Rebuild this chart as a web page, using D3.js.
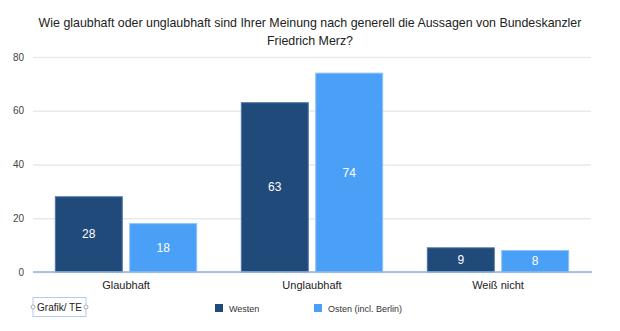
<!DOCTYPE html>
<html>
<head>
<meta charset="utf-8">
<script src="https://cdn.jsdelivr.net/npm/d3@7"></script>
<style>
  body { margin: 0; background: #fff; }
  svg { display: block; font-family: "Liberation Sans", Arial, Helvetica, sans-serif; }
</style>
</head>
<body>
<svg id="chart" width="620" height="331"></svg>
<script>
const titleLines = [
  "Wie glaubhaft oder unglaubhaft sind Ihrer Meinung nach generell die Aussagen von Bundeskanzler",
  "Friedrich Merz?"
];
const categories = ["Glaubhaft", "Unglaubhaft", "Weiß nicht"];
const seriesNames = ["Westen", "Osten (incl. Berlin)"];
const westen = [28, 63, 9];
const osten = [18, 74, 8];
const yTicks = [0, 20, 40, 60, 80];
const colors = ["#1f4a7a", "#4a9ff7"];
const strokes = ["#4f77a6", "#8cc2fa"];

const svg = d3.select("#chart");
const margin = { left: 33, right: 29, top: 57, bottom: 59 };
const W = 620, H = 331;

const x = d3.scaleBand().domain(categories).range([margin.left, W - margin.right]).paddingInner(0).paddingOuter(0);
const inner = d3.scaleBand().domain(seriesNames).range([0, x.bandwidth()]).paddingInner(0.1).paddingOuter(0.3);
const y = d3.scaleLinear().domain([0, 80]).range([H - margin.bottom, margin.top]);

// title
svg.append("g").selectAll("text").data(titleLines).join("text")
  .attr("x", W / 2).attr("y", (d, i) => 27 + i * 18)
  .attr("text-anchor", "middle").attr("font-size", 12.4).attr("fill", "#222")
  .text(d => d);

// gridlines + y labels
const yAxis = d3.axisLeft(y).tickValues(yTicks).tickSize(-(W - margin.left - margin.right)).tickPadding(9);
const gy = svg.append("g").attr("transform", `translate(${margin.left},0)`).call(yAxis);
gy.select(".domain").remove();
gy.selectAll(".tick line").attr("stroke", "#e9e9e9").attr("stroke-width", 1.5);
gy.selectAll(".tick text").attr("font-size", 10).attr("fill", "#444")
  .attr("font-family", "'Liberation Sans', Arial, sans-serif");

// bars
const data = categories.map((c, i) => ({ cat: c, vals: [westen[i], osten[i]] }));
const groups = svg.append("g").selectAll("g").data(data).join("g")
  .attr("transform", d => `translate(${x(d.cat)},0)`);
groups.selectAll("rect").data(d => d.vals.map((v, j) => ({ v, s: seriesNames[j], j })))
  .join("rect")
  .attr("x", d => inner(d.s)).attr("width", inner.bandwidth())
  .attr("y", d => y(d.v)).attr("height", d => y(0) - y(d.v))
  .attr("fill", d => colors[d.j]).attr("stroke", d => strokes[d.j]).attr("stroke-width", 1);
groups.selectAll("text").data(d => d.vals.map((v, j) => ({ v, s: seriesNames[j] })))
  .join("text")
  .attr("x", d => inner(d.s) + inner.bandwidth() / 2)
  .attr("y", d => (y(d.v) + y(0)) / 2 + 4)
  .attr("text-anchor", "middle").attr("font-size", 12).attr("fill", "#fff")
  .text(d => d.v);

// baseline
svg.append("line").attr("x1", margin.left).attr("x2", W - margin.right + 1)
  .attr("y1", y(0)).attr("y2", y(0)).attr("stroke", "#8db3df").attr("stroke-width", 1.5);

// category axis
const xAxis = d3.axisBottom(x).tickSize(0).tickPadding(9);
const gx = svg.append("g").attr("transform", `translate(0,${y(0)})`).call(xAxis);
gx.select(".domain").remove();
gx.selectAll(".tick text").attr("font-size", 11).attr("fill", "#222")
  .attr("font-family", "'Liberation Sans', Arial, sans-serif");

// legend
const legendX = [215, 314];
const lg = svg.append("g").selectAll("g").data(seriesNames).join("g")
  .attr("transform", (d, i) => `translate(${legendX[i]},304)`);
lg.append("rect").attr("width", 8).attr("height", 8).attr("fill", (d, i) => colors[i]);
lg.append("text").attr("x", 14).attr("y", 7.5).attr("font-size", 9).attr("fill", "#333").text(d => d);

// caption box
const cap = svg.append("g");
cap.append("rect").attr("x", 33).attr("y", 297.5).attr("width", 53).attr("height", 19)
  .attr("fill", "none").attr("stroke", "#b7c9ee").attr("stroke-width", 1);
cap.append("text").attr("x", 59.5).attr("y", 311).attr("text-anchor", "middle")
  .attr("font-size", 10).attr("fill", "#222").text("Grafik/ TE");
cap.selectAll("circle").data([33, 86]).join("circle")
  .attr("cx", d => d).attr("cy", 307).attr("r", 2)
  .attr("fill", "#fff").attr("stroke", "#999").attr("stroke-width", 0.8);
</script>
</body>
</html>
